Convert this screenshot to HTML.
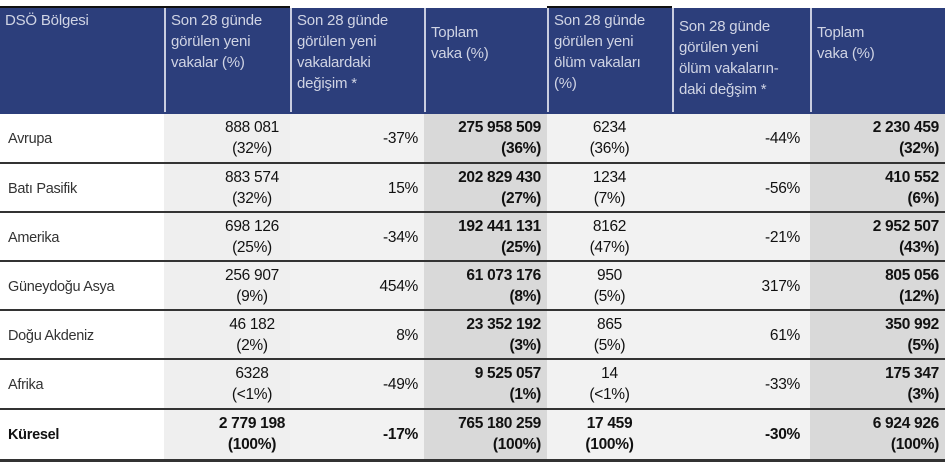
<!DOCTYPE html>
<html><head><meta charset="utf-8"><style>
body{margin:0;width:945px;height:463px;background:#fff;overflow:hidden;font-family:"Liberation Sans",sans-serif;position:relative}
.h{position:absolute;top:8px;height:105px;background:#2c3e7b;color:#d0d4e4;font-size:15px;line-height:21px;padding:2px 5px;box-sizing:border-box;border-left:2px solid #c9cde0;letter-spacing:-0.2px;white-space:nowrap}
.c{position:absolute;box-sizing:border-box;font-size:15.5px;line-height:21px;color:#111;letter-spacing:-0.3px}
.ln{position:absolute;left:0;width:945px;height:2px;background:#333}
.r{text-align:right;padding-right:6px}
.b{font-weight:bold}
</style></head><body>
<div style="position:absolute;left:0;top:6px;width:290px;height:2px;background:#111"></div>
<div style="position:absolute;left:547px;top:6px;width:125px;height:2px;background:#111"></div>
<div class="h" style="left:0;width:164px;border-left:none">DSÖ Bölgesi</div>
<div class="h" style="left:164px;width:126px">Son 28 günde<br>görülen yeni<br>vakalar (%)</div>
<div class="h" style="left:290px;width:134px">Son 28 günde<br>görülen yeni<br>vakalardaki<br>değişim *</div>
<div class="h" style="left:424px;width:123px;padding-top:14px">Toplam<br>vaka (%)</div>
<div class="h" style="left:547px;width:125px">Son 28 günde<br>görülen yeni<br>ölüm vakaları<br>(%)</div>
<div class="h" style="left:672px;width:138px;padding-top:8px">Son 28 günde<br>görülen yeni<br>ölüm vakaların-<br>daki değşim *</div>
<div class="h" style="left:810px;width:135px;padding-top:14px">Toplam<br>vaka (%)</div>
<div id="rows"></div>
<script>
var d=[["Avrupa","888 081","(32%)","-37%","275 958 509","(36%)","6234","(36%)","-44%","2 230 459","(32%)"],
["Batı Pasifik","883 574","(32%)","15%","202 829 430","(27%)","1234","(7%)","-56%","410 552","(6%)"],
["Amerika","698 126","(25%)","-34%","192 441 131","(25%)","8162","(47%)","-21%","2 952 507","(43%)"],
["Güneydoğu Asya","256 907","(9%)","454%","61 073 176","(8%)","950","(5%)","317%","805 056","(12%)"],
["Doğu Akdeniz","46 182","(2%)","8%","23 352 192","(3%)","865","(5%)","61%","350 992","(5%)"],
["Afrika","6328","(<1%)","-49%","9 525 057","(1%)","14","(<1%)","-33%","175 347","(3%)"],
["Küresel","2 779 198","(100%)","-17%","765 180 259","(100%)","17 459","(100%)","-30%","6 924 926","(100%)"]];
var h="",tops=[113,163,212,261,310,359,409],H=[50,49,49,49,49,50,51];
d.forEach(function(r,i){var t=tops[i],hh=H[i],g=i==6?" b":"";
h+='<div class="c" style="left:164px;top:'+t+'px;width:126px;height:'+hh+'px;background:#efefef"></div>';
h+='<div class="c" style="left:290px;top:'+t+'px;width:134px;height:'+hh+'px;background:#f2f2f2"></div>';
h+='<div class="c" style="left:424px;top:'+t+'px;width:123px;height:'+hh+'px;background:#d9d9d9"></div>';
h+='<div class="c" style="left:547px;top:'+t+'px;width:125px;height:'+hh+'px;background:#f2f2f2"></div>';
h+='<div class="c" style="left:672px;top:'+t+'px;width:138px;height:'+hh+'px;background:#f2f2f2"></div>';
h+='<div class="c" style="left:810px;top:'+t+'px;width:135px;height:'+hh+'px;background:#d9d9d9"></div>';
h+='<div class="c'+g+'" style="left:8px;top:'+(t+16)+'px;font-size:14.5px;color:'+(i==6?'#111':'#333')+'">'+r[0]+'</div>';
h+='<div class="c'+g+'" style="left:164px;top:'+(t+4)+'px;width:126px;text-align:center;padding-left:50px">'+r[1]+'<br>'+r[2]+'</div>';
h+='<div class="c r b" style="left:290px;top:'+(t+15)+'px;width:134px;font-weight:'+(i==6?'bold':'normal')+'">'+r[3]+'</div>';
h+='<div class="c r b" style="left:424px;top:'+(t+4)+'px;width:123px">'+r[4]+'<br>'+r[5]+'</div>';
h+='<div class="c'+g+'" style="left:547px;top:'+(t+4)+'px;width:125px;text-align:center">'+r[6]+'<br>'+r[7]+'</div>';
h+='<div class="c r" style="left:672px;top:'+(t+15)+'px;width:138px;padding-right:10px;font-weight:'+(i==6?'bold':'normal')+'">'+r[8]+'</div>';
h+='<div class="c r b" style="left:810px;top:'+(t+4)+'px;width:135px">'+r[9]+'<br>'+r[10]+'</div>';
if(i>0)h+='<div class="ln" style="top:'+(t-1)+'px"></div>';
});
h+='<div class="ln" style="top:112px;height:2px;background:#2c3e7b"></div><div class="ln" style="top:459px;height:3px"></div>';
document.getElementById("rows").innerHTML=h;
</script>
</body></html>
